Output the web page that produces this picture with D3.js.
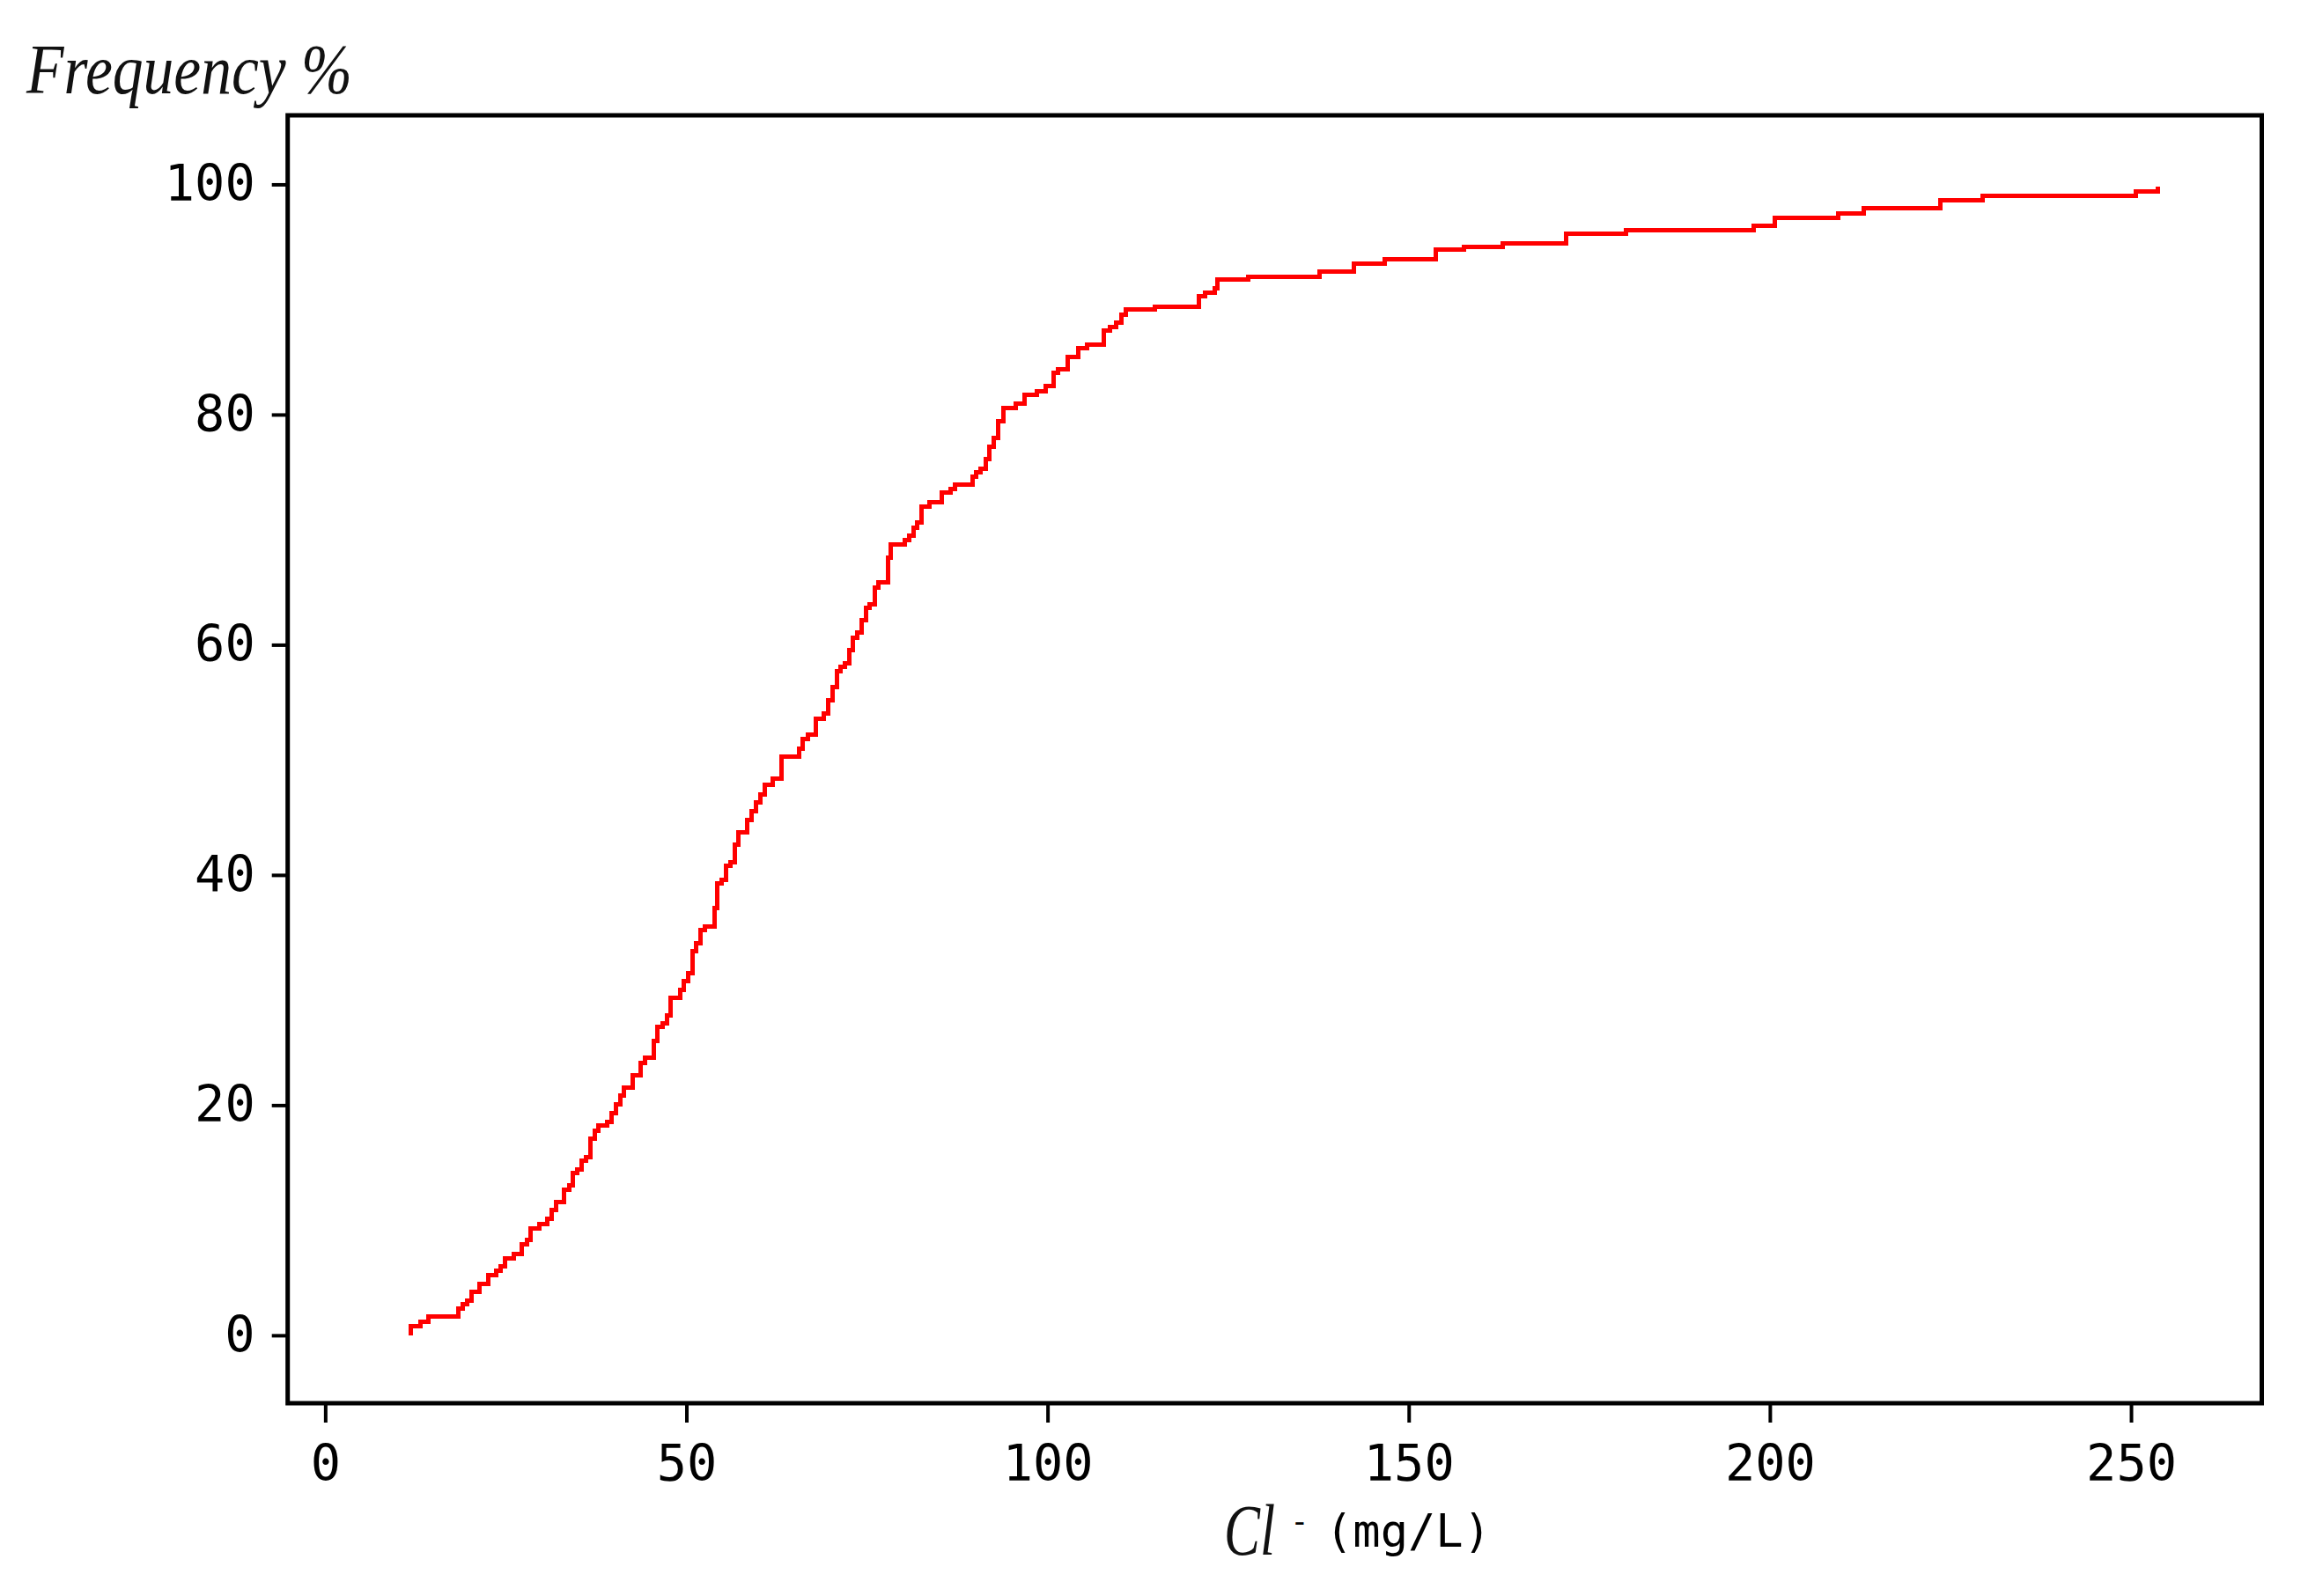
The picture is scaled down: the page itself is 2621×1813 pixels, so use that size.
<!DOCTYPE html>
<html>
<head>
<meta charset="utf-8">
<script src="https://cdn.jsdelivr.net/npm/d3@7"></script>
<style>
  body { margin: 0; background: #fff; }
</style>
</head>
<body>
<svg id="cdf_chart"></svg>
<script>
// Cl- concentration (mg/L) at each step of the cumulative curve
const clValues = [
  11.8, 11.8, 13.2, 14.3, 18.4, 19.0, 19.6, 20.2, 21.4, 22.6, 23.7, 24.3, 24.9, 26.1,
  27.25, 27.9, 28.4, 29.6, 30.8, 31.35, 31.96, 33.1, 33.75, 34.3, 34.9, 35.5, 36.1,
  36.7, 37.3, 37.85, 39.0, 39.6, 40.2, 40.8, 41.3, 42.6, 43.7, 44.3, 45.5,
  46.0, 46.75, 47.35, 47.8, 49.1, 49.6, 50.2, 50.8, 51.4, 52.0, 52.6, 53.9, 54.3,
  54.9, 55.5, 56.1, 56.7, 57.2, 58.4, 59.0, 59.6, 60.2, 60.8, 62.0, 63.2, 65.6,
  66.1, 66.8, 67.9, 69.0, 69.6, 70.2, 70.8, 71.3, 71.9, 72.5, 73.1, 73.7, 74.3,
  74.9, 75.4, 76.1, 76.6, 77.9, 78.3, 80.2, 80.8, 81.4, 81.9, 82.6, 83.7, 85.4,
  86.6, 87.2, 89.6, 90.1, 90.7, 91.4, 91.9, 92.6, 93.2, 93.85, 95.6, 96.8, 98.5,
  99.7, 100.8, 101.5, 102.8, 104.3, 105.5, 107.8, 108.6, 109.5, 110.2, 110.8,
  114.8, 120.9, 121.8, 123.1, 123.5, 127.8, 137.7, 142.4, 146.7, 153.7, 157.7,
  163.0, 171.8, 180.1, 197.7, 200.7, 209.4, 213.0, 223.6, 229.5, 250.7, 253.7
];
// cumulative frequency (%) reached at each step
const freqValues = [
  0, 0.8, 1.2, 1.6, 2.35, 2.7, 3.0, 3.8, 4.5, 5.25, 5.6, 6.0, 6.7, 7.1,
  7.9, 8.3, 9.3, 9.7, 10.1, 10.9, 11.6, 12.65, 13.0, 14.1, 14.4, 15.2, 15.5,
  17.1, 17.8, 18.2, 18.5, 19.3, 20.05, 20.8, 21.5, 22.6, 23.7, 24.1, 25.6,
  26.8, 27.1, 27.8, 29.3, 30.0, 30.75, 31.5, 33.4, 34.1, 35.2, 35.5, 37.1, 39.3,
  39.6, 40.8, 41.1, 42.6, 43.7, 44.8, 45.5, 46.3, 47.0, 47.8, 48.4, 50.3, 51.0,
  51.8, 52.2, 53.6, 54.0, 55.2, 56.3, 57.7, 58.1, 58.4, 59.5, 60.6, 61.1, 62.1,
  63.2, 63.5, 65.0, 65.4, 67.6, 68.7, 69.1, 69.5, 70.2, 70.6, 72.0, 72.4, 73.2,
  73.55, 73.9, 74.6, 75.0, 75.3, 76.1, 77.2, 78.0, 79.4, 80.6, 80.95, 81.7, 82.0,
  82.5, 83.6, 83.9, 85.0, 85.8, 86.1, 87.3, 87.6, 88.0, 88.7, 89.1,
  89.4, 90.3, 90.6, 91.0, 91.7, 92.0, 92.4, 93.1, 93.5, 94.3, 94.6,
  94.9, 95.7, 96.0, 96.4, 97.1, 97.5, 97.9, 98.6, 99.0, 99.4, 99.8
];
const xTicks = [0, 50, 100, 150, 200, 250];
const yTicks = [0, 20, 40, 60, 80, 100];

function drawCdfChart() {
    const width = 2621,
        height = 1813;
    const margin = { top: 131, right: 52.5, bottom: 219, left: 326.7 };

    const svg = d3.select("#cdf_chart")
        .attr("width", width)
        .attr("height", height)
        .style("background-color", "#fff");

    const x = d3.scaleLinear()
        .domain([-5.2, 268.1])
        .range([margin.left, width - margin.right]);
    const y = d3.scaleLinear()
        .domain([-5.9, 106])
        .range([height - margin.bottom, margin.top]);

    const points = clValues.map((d, i) => [d, freqValues[i]]);

    // x axis
    const xAxis = svg.append("g")
        .attr("transform", `translate(0,${height - margin.bottom})`)
        .call(d3.axisBottom(x).tickValues(xTicks).tickSize(22).tickPadding(26));
    // y axis
    const yAxis = svg.append("g")
        .attr("transform", `translate(${margin.left},0)`)
        .call(d3.axisLeft(y).tickValues(yTicks).tickSize(18).tickPadding(19));

    [xAxis, yAxis].forEach(a => {
        a.select(".domain").remove();
        a.selectAll(".tick line").attr("stroke", "#000").attr("stroke-width", 4);
        a.selectAll(".tick text")
            .style("font-family", "'DejaVu Sans Mono', monospace")
            .style("font-size", "57px")
            .attr("fill", "#000");
    });

    // frame
    svg.append("rect")
        .attr("x", margin.left)
        .attr("y", margin.top)
        .attr("width", width - margin.right - margin.left)
        .attr("height", height - margin.bottom - margin.top)
        .attr("fill", "none")
        .attr("stroke", "#000")
        .attr("stroke-width", 5);

    // cumulative curve
    const line = d3.line()
        .x(d => x(d[0]))
        .y(d => y(d[1]))
        .curve(d3.curveStepAfter);
    svg.append("path")
        .datum(points)
        .attr("d", line)
        .attr("fill", "none")
        .attr("stroke", "#ff0000")
        .attr("stroke-width", 5)
        .style("shape-rendering", "crispEdges");

    // y title
    svg.append("text")
        .attr("x", 30)
        .attr("y", 106)
        .attr("textLength", 370)
        .attr("lengthAdjust", "spacingAndGlyphs")
        .style("font-family", "'Liberation Serif', serif")
        .style("font-style", "italic")
        .style("font-size", "80px")
        .attr("fill", "#111")
        .text("Frequency %");

    // x title: Cl- (mg/L)
    const xt = svg.append("g");
    xt.append("text")
        .attr("x", 1390)
        .attr("y", 1766)
        .attr("textLength", 58)
        .attr("lengthAdjust", "spacingAndGlyphs")
        .style("font-family", "'Liberation Serif', serif")
        .style("font-style", "italic")
        .style("font-size", "82px")
        .attr("fill", "#111")
        .text("Cl");
    xt.append("text")
        .attr("x", 1465)
        .attr("y", 1740)
        .style("font-family", "'DejaVu Sans Mono', monospace")
        .style("font-size", "36px")
        .attr("fill", "#000")
        .text("-");
    xt.append("text")
        .attr("x", 1505)
        .attr("y", 1757)
        .attr("textLength", 188)
        .attr("lengthAdjust", "spacingAndGlyphs")
        .style("font-family", "'DejaVu Sans Mono', monospace")
        .style("font-size", "52px")
        .attr("fill", "#000")
        .text("(mg/L)");
}

drawCdfChart();
</script>
</body>
</html>
